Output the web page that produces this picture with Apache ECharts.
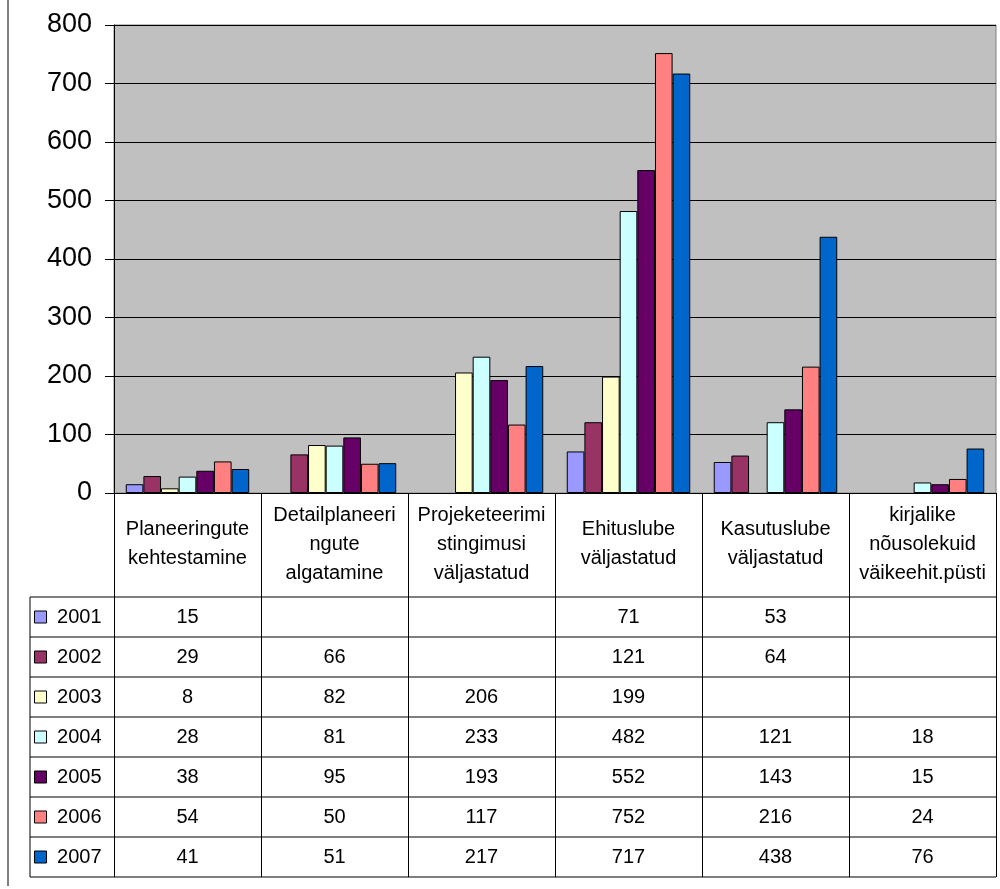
<!DOCTYPE html>
<html>
<head>
<meta charset="utf-8">
<script src="https://cdn.jsdelivr.net/npm/echarts@6/dist/echarts.min.js"></script>
<style>
html,body{margin:0;padding:0;background:#fff;}
#chart{width:1000px;height:889px;}
</style>
</head>
<body>
<div id="chart"></div>
<script>
const categories = [
  'Planeeringute\nkehtestamine',
  'Detailplaneeri\nngute\nalgatamine',
  'Projeketeerimi\nstingimusi\nväljastatud',
  'Ehituslube\nväljastatud',
  'Kasutuslube\nväljastatud',
  'kirjalike\nnõusolekuid\nväikeehit.püsti'
];
const years = ['2001','2002','2003','2004','2005','2006','2007'];
const v2001 = [15, null, null, 71, 53, null];
const v2002 = [29, 66, null, 121, 64, null];
const v2003 = [8, 82, 206, 199, null, null];
const v2004 = [28, 81, 233, 482, 121, 18];
const v2005 = [38, 95, 193, 552, 143, 15];
const v2006 = [54, 50, 117, 752, 216, 24];
const v2007 = [41, 51, 217, 717, 438, 76];
const yTicks = [0, 100, 200, 300, 400, 500, 600, 700, 800];
const colors = ['#9999FF','#993366','#FFFFCC','#CCFFFF','#660066','#FF8080','#0066CC'];

const rows = [v2001, v2002, v2003, v2004, v2005, v2006, v2007];
const FONT = "'Liberation Sans', Arial, sans-serif";

const G = {left:114, right:4, top:25, bottom:396};
const axisY = 889 - G.bottom; // 493
const rowTop = 597, rowH = 40;

const xAxes = [{
  type:'category', gridIndex:0, position:'bottom', data:categories,
  axisLine:{show:true, lineStyle:{color:'#000', width:1}},
  axisTick:{show:true, interval:0, length: rowTop + rowH*7 - axisY, lineStyle:{color:'#000', width:1}},
  axisLabel:{interval:0, margin:51, verticalAlign:'middle', fontSize:20, lineHeight:29, color:'#000', fontFamily:FONT, align:'center'}
}];
rows.forEach((r, k) => {
  xAxes.push({
    type:'category', gridIndex:0, position:'bottom', data:categories,
    axisLine:{show:false}, axisTick:{show:false}, splitLine:{show:false},
    axisLabel:{interval:0, margin: rowTop + rowH*k + rowH/2 - axisY, verticalAlign:'middle',
      fontSize:20, color:'#000', fontFamily:FONT,
      formatter:(v, i) => (r[i] == null ? '' : String(r[i]))}
  });
});

const graphics = [];
for (let k = 0; k <= 7; k++) {
  graphics.push({type:'line', z:10, shape:{x1:30, y1:rowTop + rowH*k, x2:1000-G.right, y2:rowTop + rowH*k}, style:{stroke:'#000', lineWidth:1}});
}
graphics.push({type:'line', z:10, shape:{x1:30, y1:rowTop, x2:30, y2:rowTop + rowH*7}, style:{stroke:'#000', lineWidth:1}});
graphics.push({type:'line', z:10, shape:{x1:8, y1:0, x2:8, y2:886}, style:{stroke:'#000', lineWidth:1}});

const chart = echarts.init(document.getElementById('chart'), null, {renderer:'canvas'});
chart.setOption({
  animation:false,
  backgroundColor:'#fff',
  textStyle:{fontFamily:FONT},
  grid:{left:G.left, right:G.right, top:G.top, bottom:G.bottom, show:true, backgroundColor:'#C0C0C0', borderColor:'#808080', borderWidth:1},
  legend:{
    data:years, orient:'vertical', left:34, top:rowTop + 10, padding:0,
    itemWidth:12, itemHeight:12, itemGap:20, icon:'rect',
    itemStyle:{borderColor:'#000', borderWidth:1},
    formatter:n => ' ' + n,
    textStyle:{fontSize:20, lineHeight:20, color:'#000', fontFamily:FONT}
  },
  xAxis:xAxes,
  yAxis:{
    type:'value', min:yTicks[0], max:yTicks[yTicks.length-1], interval:100,
    axisLine:{show:true, lineStyle:{color:'#000'}},
    axisTick:{show:true, length:9, lineStyle:{color:'#000'}},
    splitLine:{show:true, lineStyle:{color:'#000', width:1}},
    axisLabel:{fontSize:27, color:'#000', margin:22, fontFamily:FONT}
  },
  series: years.map((y, i) => ({
    name:y, type:'bar', xAxisIndex:0, data:rows[i],
    barGap:'0%', barCategoryGap:'16%',
    itemStyle:{color:colors[i], borderColor:'#000', borderWidth:1}
  })),
  graphic:graphics
});
</script>
</body>
</html>
